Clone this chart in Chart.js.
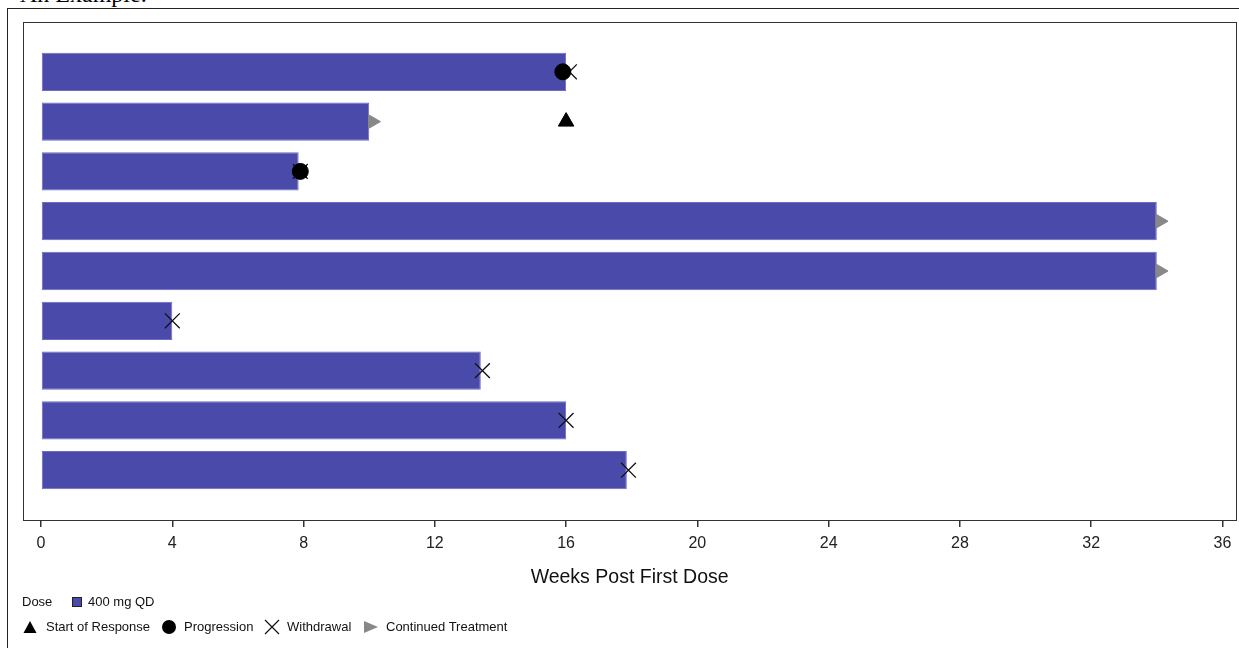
<!DOCTYPE html>
<html>
<head>
<meta charset="utf-8">
<script src="https://cdn.jsdelivr.net/npm/chart.js@4/dist/chart.umd.min.js"></script>
<style>
  body { margin: 0; background: #fff; font-family: "Liberation Sans", Arial, sans-serif; }
  #wrap { position: relative; width: 1239px; height: 648px; overflow: hidden; }
  #title { position: absolute; left: 20px; top: -19px; font-family: "Liberation Serif", serif; font-size: 24px; color: #000; }
  #outer { position: absolute; left: 7px; top: 8px; width: 1260px; height: 700px; border: 1px solid #222; }
  #chart { position: absolute; left: 0; top: 0; }
  .lt { position: absolute; font-size: 13px; color: #111; white-space: nowrap; line-height: 16px; }
  .lc { position: absolute; }
</style>
</head>
<body>
<div id="wrap">
  <div id="title">An Example.</div>
  <div id="outer"></div>
  <canvas id="chart" width="1248" height="648"></canvas>
  <div id="legend"></div>
</div>
<script>
// one row per patient, top to bottom
const rows = [1, 2, 3, 4, 5, 6, 7, 8, 9];
const weeksOnDrug = [16, 10, 7.85, 34, 34, 4, 13.4, 16, 17.85];

const responseStart = [{ x: 16, y: 2 }];
const progression = [{ x: 15.9, y: 1 }, { x: 7.9, y: 3 }];
const withdrawal = [{ x: 16.1, y: 1 }, { x: 7.9, y: 3 }, { x: 4, y: 6 }, { x: 13.45, y: 7 }, { x: 16, y: 8 }, { x: 17.9, y: 9 }];
const continued = [{ x: 10.1, y: 2 }, { x: 34.1, y: 4 }, { x: 34.1, y: 5 }];

const xTicks = [0, 4, 8, 12, 16, 20, 24, 28, 32, 36];
const barColor = "#4a4aaa";

const framePlugin = {
    id: "frame",
    afterDraw(chart) {
        const a = chart.chartArea;
        const ctx = chart.ctx;
        ctx.save();
        ctx.strokeStyle = "#333";
        ctx.lineWidth = 1;
        ctx.strokeRect(Math.round(a.left) + 0.5, Math.round(a.top) + 0.5, Math.round(a.right - a.left), Math.round(a.bottom - a.top));
        ctx.restore();
    }
};

const ctx = document.getElementById("chart").getContext("2d");
const chart = new Chart(ctx, {
    type: "bar",
    data: {
        datasets: [
            {
                type: "scatter", label: "Progression", data: progression,
                pointStyle: "circle", pointRadius: 8, backgroundColor: "#000", borderColor: "#000", order: 0
            },
            {
                type: "scatter", label: "Withdrawal", data: withdrawal,
                pointStyle: "crossRot", pointRadius: 10.5, borderColor: "#111", borderWidth: 1.3, order: 1
            },
            {
                type: "scatter", label: "Start of Response", data: responseStart,
                pointStyle: "triangle", pointRadius: 9, backgroundColor: "#000", borderColor: "#000", order: 0
            },
            {
                type: "scatter", label: "Continued Treatment", data: continued,
                pointStyle: "triangle", rotation: 90, pointRadius: 8, backgroundColor: "#888", borderColor: "#888", order: 0
            },
            {
                label: "400 mg QD",
                indexAxis: "y",
                data: rows.map((r, i) => ({ y: r, x: [0, weeksOnDrug[i]] })),
                backgroundColor: barColor,
                borderColor: "#6c6cc0",
                borderWidth: 1,
                borderSkipped: false,
                categoryPercentage: 1,
                barPercentage: 0.77,
                order: 5
            }
        ]
    },
    options: {
        responsive: false,
        animation: false,
        layout: { padding: { left: 23, top: 22, right: 0, bottom: 55 } },
        plugins: { legend: { display: false }, tooltip: { enabled: false } },
        scales: {
            x: {
                type: "linear",
                offset: false,
                min: -0.55,
                max: 36.42,
                afterBuildTicks: (s) => { s.ticks = xTicks.map((v) => ({ value: v })); },
                afterFit: (s) => { s.height = 73; },
                grid: { offset: false, drawOnChartArea: false, drawTicks: true, tickLength: 7, color: "#333", lineWidth: 1.5 },
                border: { color: "#333" },
                ticks: { color: "#222", font: { family: "Liberation Sans", size: 16 }, padding: 7, maxRotation: 0 },
                title: {
                    display: true, text: "Weeks Post First Dose", color: "#111",
                    font: { family: "Liberation Sans", size: 19.5 }, padding: { top: 0 }
                }
            },
            y: {
                type: "linear",
                offset: false,
                reverse: true,
                min: 0,
                max: 10,
                display: false,
                grid: { offset: false }
            }
        }
    },
    plugins: [framePlugin]
});

// legend drawn as html under the chart
function swatch(kind, left, top) {
    const c = document.createElement("canvas");
    c.className = "lc";
    c.width = 18; c.height = 18;
    c.style.left = left + "px";
    c.style.top = top + "px";
    const g = c.getContext("2d");
    g.fillStyle = "#000";
    if (kind === "square") {
        g.fillStyle = barColor; g.fillRect(4, 4, 10, 10);
        g.strokeStyle = "#222"; g.strokeRect(4.5, 4.5, 9, 9);
    } else if (kind === "triangle") {
        g.beginPath(); g.moveTo(9, 3); g.lineTo(15.5, 15); g.lineTo(2.5, 15); g.closePath(); g.fill();
    } else if (kind === "circle") {
        g.beginPath(); g.arc(9, 9, 7, 0, Math.PI * 2); g.fill();
    } else if (kind === "cross") {
        g.strokeStyle = "#111"; g.lineWidth = 1.2;
        g.beginPath(); g.moveTo(2, 2); g.lineTo(16, 16); g.moveTo(16, 2); g.lineTo(2, 16); g.stroke();
    } else if (kind === "right") {
        g.fillStyle = "#888";
        g.beginPath(); g.moveTo(2, 3); g.lineTo(16, 9); g.lineTo(2, 15); g.closePath(); g.fill();
    }
    document.getElementById("legend").appendChild(c);
}
function label(text, left, top) {
    const s = document.createElement("div");
    s.className = "lt";
    s.textContent = text;
    s.style.left = left + "px";
    s.style.top = top + "px";
    document.getElementById("legend").appendChild(s);
}
label("Dose", 22, 594);
swatch("square", 68, 593);
label("400 mg QD", 88, 594);
swatch("triangle", 21, 618);
label("Start of Response", 46, 619);
swatch("circle", 160, 618);
label("Progression", 184, 619);
swatch("cross", 263, 618);
label("Withdrawal", 287, 619);
swatch("right", 362, 618);
label("Continued Treatment", 386, 619);
</script>
</body>
</html>
